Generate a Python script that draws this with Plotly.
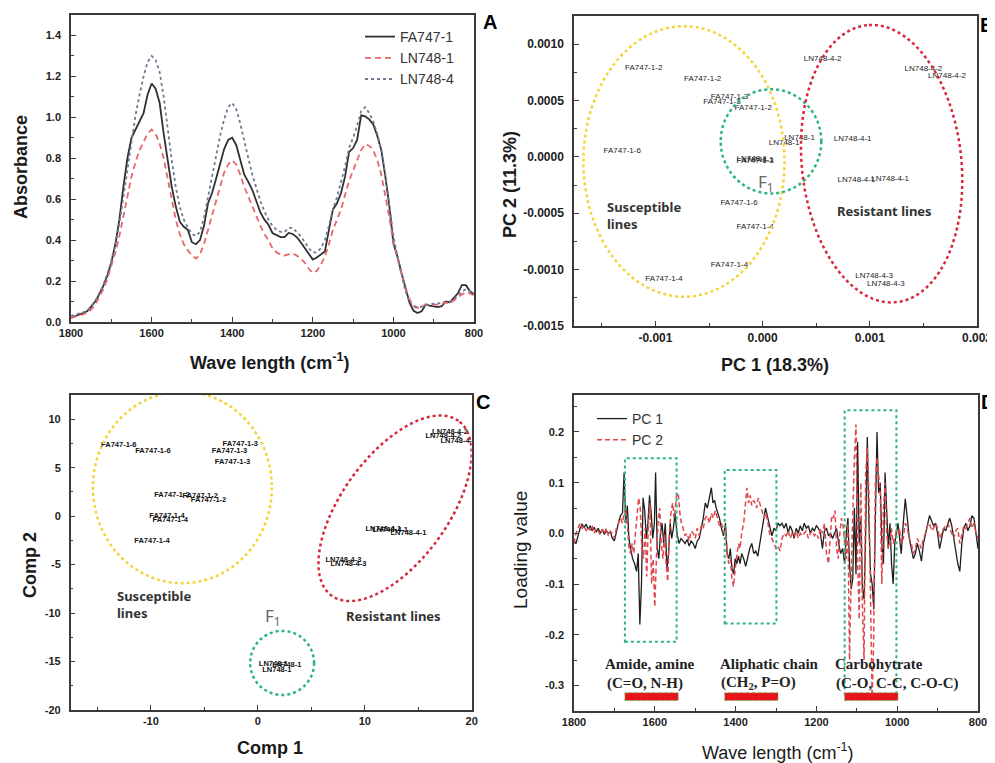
import numpy as np
import plotly.graph_objects as go

# ---------------- Panel A : FT-IR spectra ----------------
wave_a = list(range(1800, 799, -10))
fa747_1 = [0.020, 0.028, 0.035, 0.042, 0.052, 0.075, 0.10, 0.135, 0.175, 0.225,
           0.29, 0.38, 0.50, 0.66, 0.80, 0.90, 0.94, 0.98, 1.02, 1.11,
           1.165, 1.14, 1.07, 0.92, 0.79, 0.66, 0.565, 0.49, 0.465, 0.45,
           0.39, 0.38, 0.40, 0.47, 0.58, 0.63, 0.70, 0.78, 0.845, 0.89,
           0.90, 0.865, 0.79, 0.72, 0.685, 0.645, 0.59, 0.535, 0.50, 0.475,
           0.435, 0.425, 0.415, 0.415, 0.435, 0.43, 0.415, 0.39, 0.36, 0.33,
           0.305, 0.315, 0.33, 0.345, 0.45, 0.55, 0.58, 0.63, 0.71, 0.83,
           0.85, 0.89, 1.01, 1.005, 0.99, 0.965, 0.91, 0.84, 0.71, 0.565,
           0.385, 0.32, 0.24, 0.16, 0.095, 0.055, 0.044, 0.052, 0.085, 0.08,
           0.077, 0.073, 0.077, 0.10, 0.096, 0.117, 0.14, 0.18, 0.18, 0.15,
           0.135]
ln748_1 = [0.02, 0.025, 0.03, 0.037, 0.045, 0.06, 0.085, 0.12, 0.16, 0.21,
           0.27, 0.34, 0.42, 0.52, 0.62, 0.71, 0.78, 0.84, 0.88, 0.92,
           0.94, 0.92, 0.87, 0.80, 0.70, 0.59, 0.50, 0.43, 0.38, 0.35,
           0.325, 0.31, 0.33, 0.38, 0.45, 0.52, 0.59, 0.66, 0.73, 0.77,
           0.79, 0.77, 0.72, 0.66, 0.61, 0.57, 0.52, 0.47, 0.43, 0.40,
           0.36, 0.34, 0.33, 0.325, 0.33, 0.335, 0.325, 0.31, 0.29, 0.26,
           0.24, 0.25, 0.28, 0.32, 0.38, 0.45, 0.50, 0.55, 0.62, 0.69,
           0.74, 0.79, 0.84, 0.87, 0.86, 0.84, 0.79, 0.72, 0.62, 0.51,
           0.39, 0.31, 0.23, 0.16, 0.11, 0.08, 0.07, 0.075, 0.085, 0.08,
           0.085, 0.085, 0.09, 0.095, 0.09, 0.105, 0.12, 0.135, 0.145, 0.14,
           0.13]
ln748_4 = [0.03, 0.035, 0.04, 0.047, 0.055, 0.075, 0.10, 0.14, 0.18, 0.235,
           0.30, 0.38, 0.48, 0.61, 0.75, 0.89, 1.01, 1.11, 1.20, 1.27,
           1.30, 1.28, 1.22, 1.10, 0.94, 0.79, 0.66, 0.56, 0.50, 0.46,
           0.43, 0.42, 0.44, 0.51, 0.61, 0.71, 0.81, 0.91, 0.99, 1.05,
           1.07, 1.04, 0.97, 0.88, 0.80, 0.72, 0.65, 0.59, 0.54, 0.50,
           0.47, 0.45, 0.44, 0.44, 0.46, 0.46, 0.44, 0.42, 0.39, 0.36,
           0.34, 0.34, 0.36, 0.40, 0.47, 0.55, 0.61, 0.68, 0.76, 0.85,
           0.90, 0.96, 1.03, 1.05, 1.02, 0.98, 0.92, 0.84, 0.72, 0.57,
           0.42, 0.32, 0.23, 0.15, 0.10, 0.075, 0.07, 0.075, 0.085, 0.085,
           0.09, 0.09, 0.095, 0.10, 0.10, 0.11, 0.13, 0.15, 0.16, 0.15,
           0.14]

# ---------------- Panel B : PCA scores ----------------
b_labels = ["FA747-1-2", "FA747-1-2", "FA747-1-3", "FA747-1-3", "FA747-1-2",
            "FA747-1-6", "FA747-1-6", "FA747-1-4", "FA747-1-4", "FA747-1-4",
            "LN748-1", "FA747-1-3", "LN748-1", "LN748-1", "LN748-1",
            "LN748-4-2", "LN748-4-2", "LN748-4-2", "LN748-4-1", "LN748-4-1",
            "LN748-4-1", "LN748-4-3", "LN748-4-3"]
b_pc1 = [-0.00111, -0.00056, -0.00031, -0.00038, -0.000088,
         -0.00131, -0.00022, -0.00007, -0.00031, -0.00092,
         -0.00010, -0.00007, -0.00004, 0.000344, 0.00020,
         0.00056, 0.00150, 0.00172, 0.00084, 0.000875,
         0.00119, 0.00104, 0.00115]
b_pc2 = [0.000785, 0.000688, 0.000535, 0.00049, 0.00043,
         0.00005, -0.000406, -0.00062, -0.000956, -0.00108,
         -0.00002, -0.000035, -0.000025, 0.000168, 0.000124,
         0.000865, 0.00078, 0.000718, 0.000159, -0.000209,
         -0.0002, -0.00106, -0.00113]

# ---------------- Panel C : PLS scores ----------------
c_labels = ["FA747-1-6", "FA747-1-6", "FA747-1-3", "FA747-1-3", "FA747-1-3",
            "FA747-1-2", "FA747-1-2", "FA747-1-2", "FA747-1-4", "FA747-1-4",
            "FA747-1-4", "LN748-4-2", "LN748-4-2", "LN748-4-2", "LN748-4-1",
            "LN748-4-1", "LN748-4-1", "LN748-4-3", "LN748-4-3", "LN748-1",
            "LN748-1", "LN748-1"]
c_comp1 = [-13.0, -9.81, -1.65, -2.65, -2.37,
           -8.04, -5.39, -4.61, -8.5, -8.19,
           -9.9, 17.97, 17.35, 18.75, 11.74,
           12.37, 14.08, 8.0, 8.47, 1.46,
           2.71, 1.78]
c_comp2 = [7.32, 6.66, 7.38, 6.76, 5.53,
           2.19, 2.09, 1.68, 0.02, -0.39,
           -2.61, 8.65, 8.21, 7.7, -1.35,
           -1.42, -1.76, -4.52, -4.93, -15.25,
           -15.38, -15.9]

# ---------------- Panel D : loadings ----------------
pc1_loading = [
    (1800, -0.015), (1795, -0.02), (1790, -0.005), (1785, 0.01), (1780, 0.018), (1775, 0.012),
    (1770, 0.018), (1765, 0.008), (1760, 0.015), (1755, 0.005), (1750, 0.012), (1745, 0.002),
    (1740, 0.01), (1735, 0.0), (1730, 0.008), (1725, -0.002), (1720, 0.005), (1715, 0.0),
    (1710, 0.003), (1705, -0.01), (1700, -0.015), (1695, 0.005), (1690, 0.02), (1685, 0.035),
    (1680, 0.04), (1676, 0.12), (1672, 0.02), (1668, 0.055), (1664, -0.01), (1660, -0.03),
    (1655, -0.05), (1650, -0.06), (1645, -0.075), (1641, -0.04), (1637, -0.18), (1633, -0.10),
    (1629, 0.07), (1625, 0.045), (1621, -0.01), (1617, 0.02), (1613, 0.075), (1609, 0.04),
    (1605, -0.01), (1601, 0.02), (1598, 0.12), (1594, -0.03), (1590, -0.05), (1586, 0.0),
    (1582, 0.02), (1578, -0.02), (1574, 0.02), (1570, -0.07), (1566, -0.04), (1562, 0.02),
    (1558, -0.01), (1554, 0.01), (1550, 0.04), (1545, 0.0), (1540, -0.02), (1535, -0.01),
    (1530, -0.015), (1525, -0.02), (1520, -0.012), (1515, -0.025), (1510, -0.015), (1505, -0.02),
    (1500, -0.03), (1495, -0.015), (1490, -0.01), (1485, 0.01), (1480, 0.03), (1475, 0.06),
    (1470, 0.05), (1465, 0.07), (1460, 0.09), (1456, 0.06), (1452, 0.065), (1448, 0.05),
    (1444, 0.04), (1440, 0.03), (1435, 0.01), (1430, -0.005), (1425, 0.02), (1421, -0.04),
    (1417, -0.05), (1413, -0.03), (1409, -0.07), (1405, -0.08), (1401, -0.05), (1397, -0.06),
    (1393, -0.045), (1389, -0.06), (1385, -0.04), (1380, -0.05), (1375, -0.065), (1370, -0.045),
    (1365, -0.03), (1360, -0.02), (1355, -0.04), (1350, -0.035), (1345, -0.045), (1340, -0.02),
    (1335, 0.01), (1330, 0.03), (1326, 0.05), (1322, 0.035), (1318, 0.02), (1314, 0.01),
    (1310, -0.005), (1305, 0.01), (1300, 0.005), (1295, 0.02), (1290, 0.015), (1285, 0.02),
    (1280, 0.01), (1275, 0.02), (1270, 0.0), (1265, 0.015), (1260, 0.005), (1255, -0.01),
    (1250, 0.01), (1245, 0.0), (1240, 0.015), (1235, 0.005), (1230, 0.02), (1225, 0.01),
    (1220, 0.015), (1215, 0.0), (1210, 0.01), (1205, 0.005), (1200, 0.015), (1195, 0.01),
    (1190, 0.0), (1185, -0.03), (1180, 0.005), (1175, 0.01), (1170, -0.005), (1165, 0.0),
    (1160, -0.01), (1155, 0.0), (1150, 0.01), (1145, -0.02), (1140, -0.04), (1135, -0.03),
    (1130, -0.06), (1126, 0.0), (1122, 0.03), (1118, -0.06), (1114, -0.11), (1110, -0.09),
    (1106, 0.05), (1102, -0.08), (1098, 0.18), (1094, -0.02), (1090, 0.03), (1086, -0.11),
    (1082, -0.13), (1078, 0.0), (1074, 0.19), (1070, 0.02), (1066, -0.08), (1062, -0.10),
    (1058, -0.15), (1054, 0.03), (1050, 0.20), (1046, 0.08), (1042, 0.10), (1038, -0.02),
    (1034, -0.06), (1030, 0.12), (1026, 0.05), (1022, -0.03), (1018, 0.02), (1014, -0.06),
    (1010, -0.10), (1006, -0.02), (1002, 0.0), (998, 0.02), (994, -0.01), (990, -0.04),
    (985, 0.02), (980, 0.068), (975, 0.03), (970, -0.01), (965, -0.03), (960, -0.05),
    (955, -0.04), (950, -0.02), (945, -0.035), (940, -0.055), (935, -0.02), (930, 0.0),
    (925, 0.02), (920, 0.035), (915, 0.025), (910, 0.015), (905, 0.02), (900, 0.0),
    (895, -0.03), (890, -0.01), (885, 0.01), (880, 0.005), (875, 0.02), (870, 0.03),
    (865, 0.015), (860, -0.01), (855, -0.03), (850, -0.06), (845, -0.075), (840, -0.02),
    (835, 0.01), (830, 0.02), (825, 0.005), (820, 0.015), (815, 0.035), (810, 0.03),
    (805, 0.0), (800, -0.03)]
pc2_loading = [
    (1800, -0.02), (1795, 0.0), (1790, 0.01), (1785, 0.02), (1780, 0.01), (1775, 0.015),
    (1770, 0.005), (1765, 0.012), (1760, 0.006), (1755, 0.015), (1750, 0.0), (1745, 0.01),
    (1740, 0.005), (1735, -0.003), (1730, 0.008), (1725, 0.0), (1720, 0.01), (1715, -0.005),
    (1710, 0.004), (1705, 0.0), (1700, -0.01), (1695, 0.01), (1690, 0.02), (1685, 0.03),
    (1680, 0.02), (1676, 0.04), (1672, 0.05), (1668, 0.02), (1664, -0.03), (1660, -0.04),
    (1656, -0.02), (1652, -0.04), (1648, 0.0), (1644, 0.03), (1640, 0.07), (1636, 0.05),
    (1632, -0.03), (1628, -0.05), (1624, 0.01), (1620, -0.085), (1616, 0.02), (1612, 0.06),
    (1608, -0.10), (1604, -0.05), (1600, -0.145), (1596, -0.05), (1592, 0.02), (1588, 0.05),
    (1584, -0.02), (1580, -0.05), (1576, 0.0), (1572, -0.06), (1568, -0.095), (1564, 0.0),
    (1560, 0.04), (1556, 0.06), (1552, 0.03), (1546, 0.075), (1542, 0.08), (1538, 0.04),
    (1534, 0.02), (1530, 0.01), (1525, -0.005), (1520, 0.0), (1515, -0.015), (1510, 0.005),
    (1505, 0.0), (1500, -0.01), (1495, 0.01), (1490, -0.005), (1485, 0.015), (1480, 0.01),
    (1475, 0.03), (1470, 0.035), (1465, 0.02), (1460, 0.04), (1455, 0.03), (1450, 0.045),
    (1445, 0.03), (1440, 0.015), (1435, 0.02), (1430, 0.0), (1425, 0.01), (1421, -0.04),
    (1417, -0.06), (1413, -0.05), (1409, -0.09), (1405, -0.105), (1401, -0.07), (1397, -0.04),
    (1393, -0.02), (1389, -0.03), (1385, 0.0), (1380, 0.02), (1376, 0.05), (1372, 0.09),
    (1368, 0.06), (1364, 0.075), (1360, 0.055), (1356, 0.065), (1352, 0.06), (1348, 0.05),
    (1344, 0.07), (1340, 0.06), (1335, 0.045), (1330, 0.03), (1325, 0.04), (1320, 0.02),
    (1315, -0.005), (1310, -0.01), (1305, -0.02), (1300, -0.03), (1295, -0.025), (1290, -0.035),
    (1285, -0.01), (1280, 0.0), (1275, -0.005), (1270, 0.005), (1265, -0.01), (1260, 0.0),
    (1255, -0.005), (1250, 0.005), (1245, -0.01), (1240, 0.0), (1235, -0.005), (1230, 0.0),
    (1225, 0.005), (1220, -0.01), (1215, 0.0), (1210, 0.005), (1205, -0.005), (1200, 0.0),
    (1195, -0.01), (1190, 0.01), (1185, 0.0), (1180, 0.02), (1175, -0.04), (1170, -0.06),
    (1166, -0.02), (1162, 0.035), (1158, 0.03), (1154, 0.045), (1150, -0.03), (1146, -0.05),
    (1142, 0.0), (1138, 0.03), (1134, 0.015), (1130, -0.02), (1126, -0.05), (1122, 0.02),
    (1118, -0.25), (1114, -0.08), (1110, 0.06), (1106, 0.15), (1102, 0.215), (1098, -0.05),
    (1094, -0.17), (1090, 0.10), (1086, -0.15), (1082, -0.25), (1078, 0.12), (1074, 0.17),
    (1070, 0.08), (1066, -0.18), (1062, -0.33), (1058, -0.20), (1054, 0.10), (1050, 0.15),
    (1046, 0.12), (1042, 0.08), (1038, -0.10), (1034, 0.05), (1030, 0.10), (1026, 0.0),
    (1022, -0.03), (1018, -0.02), (1014, 0.01), (1010, -0.02), (1006, -0.01), (1002, 0.005),
    (998, 0.0), (994, 0.01), (990, -0.02), (985, -0.01), (980, 0.02), (975, 0.01),
    (970, -0.01), (965, -0.02), (960, -0.04), (955, -0.03), (950, -0.01), (945, -0.02),
    (940, -0.03), (935, -0.01), (930, 0.0), (925, 0.015), (920, 0.02), (915, 0.005),
    (910, 0.01), (905, 0.02), (900, 0.01), (895, -0.01), (890, 0.0), (885, 0.01),
    (880, 0.015), (875, 0.02), (870, 0.01), (865, 0.0), (860, -0.01), (855, 0.005),
    (850, 0.01), (845, -0.02), (840, 0.0), (835, 0.015), (830, 0.01), (825, 0.02),
    (820, 0.03), (815, 0.01), (810, 0.02), (805, 0.0), (800, -0.01)]
wave_d1, pc1 = zip(*pc1_loading)
wave_d2, pc2 = zip(*pc2_loading)

# band regions (wave number limits) and labels for panel D
band_lo = [1546, 1299, 1002]
band_hi = [1674, 1427, 1130]
band_box_top = [0.148, 0.125, 0.243]
band_box_bottom = [-0.214, -0.178, -0.322]
band_title = ["Amide, amine", "Aliphatic chain", "Carbohytrate"]
band_sub = ["(C=O, N-H)", "(CH<sub>2</sub>, P=O)", "(C-O, C-C, C-O-C)"]
band_text_x = [1727, 1443, 1159]

# tick labels
a_xticks = [1800, 1600, 1400, 1200, 1000, 800]
a_yticks = [0.0, 0.2, 0.4, 0.6, 0.8, 1.0, 1.2, 1.4]
b_xticks = [-0.001, 0.0, 0.001, 0.002]
b_xtext = ["-0.001", "0.000", "0.001", "0.002"]
b_yticks = [-0.0015, -0.0010, -0.0005, 0.0, 0.0005, 0.0010]
b_ytext = ["-0.0015", "-0.0010", "-0.0005", "0.0000", "0.0005", "0.0010"]
c_xticks = [-10, 0, 10, 20]
c_yticks = [-20, -15, -10, -5, 0, 5, 10]
d_yticks = [-0.3, -0.2, -0.1, 0.0, 0.1, 0.2]

# ---------------- page geometry (page body has an 8px margin) ----------------
OFF = 8
FIG_W, FIG_H = 987, 755


def px(X):
    return (X - OFF) / FIG_W


def py(Y):
    return 1 - (Y - OFF) / FIG_H


# ---------------- figure ----------------
SANS = "Liberation Sans"
SERIF = "Liberation Serif"
NOTO = "Noto Sans"
AXC = "#3a3a3a"
fig = go.Figure()

fig.add_trace(go.Scatter(x=wave_a, y=fa747_1, mode="lines", name="FA747-1",
                         line=dict(color="#303030", width=1.8), xaxis="x", yaxis="y"))
fig.add_trace(go.Scatter(x=wave_a, y=ln748_1, mode="lines", name="LN748-1",
                         line=dict(color="#e8676a", width=1.8, dash="6px,4px"), xaxis="x", yaxis="y"))
fig.add_trace(go.Scatter(x=wave_a, y=ln748_4, mode="lines", name="LN748-4",
                         line=dict(color="#6f7b92", width=1.8, dash="dot"), xaxis="x", yaxis="y"))

fig.add_trace(go.Scatter(x=b_pc1, y=b_pc2, mode="text", text=b_labels, showlegend=False,
                         textfont=dict(family=SANS, size=8, color="#222"), xaxis="x2", yaxis="y2"))
fig.add_trace(go.Scatter(x=c_comp1, y=c_comp2, mode="text", text=c_labels, showlegend=False,
                         textfont=dict(family=SANS, size=7.5, color="#111", weight="bold"),
                         xaxis="x3", yaxis="y3"))

fig.add_trace(go.Scatter(x=wave_d1, y=pc1, mode="lines", name="PC 1", legend="legend2",
                         line=dict(color="#1e1e1e", width=1.3), xaxis="x4", yaxis="y4"))
fig.add_trace(go.Scatter(x=wave_d2, y=pc2, mode="lines", name="PC 2", legend="legend2",
                         line=dict(color="#e0474c", width=1.5, dash="5px,3px"), xaxis="x4", yaxis="y4"))


def axis(domain, rng, tickvals, ticktext, minor_tick0, minor_dtick, anchor, is_y=False, fsize=11):
    d = dict(domain=domain, range=rng, tickmode="array", tickvals=tickvals, ticktext=ticktext,
             showline=True, mirror=True, linecolor=AXC, linewidth=1.5, showgrid=False,
             zeroline=False, ticks="inside", ticklen=5, tickwidth=1.2, tickcolor=AXC,
             tickfont=dict(family=SANS, size=fsize, color="#222", weight="bold"),
             anchor=anchor, automargin=False,
             minor=dict(tickmode="linear", tick0=minor_tick0, dtick=minor_dtick, ticks="inside",
                        ticklen=3, tickwidth=1, tickcolor=AXC, showgrid=False))
    if is_y:
        d["ticklabelstandoff"] = 6
    return d


layout = dict(
    width=FIG_W, height=FIG_H, autosize=False,
    margin=dict(l=0, r=0, t=0, b=0, pad=0, autoexpand=False),
    paper_bgcolor="white", plot_bgcolor="white", showlegend=True,
    xaxis=axis([px(71), px(474)], [1800, 800], a_xticks, [str(v) for v in a_xticks], 800, 100, "y"),
    yaxis=axis([py(322), py(15)], [0, 1.5], a_yticks, [f"{v:.1f}" for v in a_yticks], 0, 0.1, "x", True),
    xaxis2=axis([px(574), px(977)], [-0.00176, 0.002], b_xticks, b_xtext, 0, 0.0005, "y2", fsize=12),
    yaxis2=axis([py(326), py(16)], [-0.0015, 0.00125], b_yticks, b_ytext, 0, 0.00025, "x2", True, fsize=12),
    xaxis3=axis([px(70.7), px(471.7)], [-17.5, 20], c_xticks, [str(v) for v in c_xticks], 0, 5, "y3"),
    yaxis3=axis([py(710), py(395)], [-20, 12.5], c_yticks, [str(v) for v in c_yticks], 0, 2.5, "x3", True),
    xaxis4=axis([px(574), px(978)], [1800, 800], a_xticks, [str(v) for v in a_xticks], 800, 100, "y4"),
    yaxis4=axis([py(710.7), py(395)], [-0.35, 0.273], d_yticks, [f"{v:.1f}" for v in d_yticks], 0, 0.05, "x4", True),
    legend=dict(x=px(360), y=py(21), xanchor="left", yanchor="top", bgcolor="rgba(0,0,0,0)",
                font=dict(family=SANS, size=14, color="#333"), tracegroupgap=0, itemwidth=30),
    legend2=dict(x=px(592), y=py(403), xanchor="left", yanchor="top", bgcolor="rgba(0,0,0,0)",
                 font=dict(family=SANS, size=14, color="#333"), tracegroupgap=0, itemwidth=30),
)
fig.update_layout(**layout)

shapes = []
YEL, RED, GRN = "#f3d43a", "#d6283c", "#2eb57e"


def ellipse_path(cx, cy, a_px, b_px, angle_deg, px_per_x, px_per_y, n=160):
    t = np.linspace(0, 2 * np.pi, n)
    th = np.radians(angle_deg)
    dx = a_px * np.cos(t) * np.cos(th) - b_px * np.sin(t) * np.sin(th)
    dy = a_px * np.cos(t) * np.sin(th) + b_px * np.sin(t) * np.cos(th)
    xs = cx + dx / px_per_x
    ys = cy + dy / px_per_y
    return "M " + " L ".join(f"{x:.7g},{y:.7g}" for x, y in zip(xs, ys)) + " Z"


# panel B ellipses
shapes.append(dict(type="circle", xref="x2", yref="y2", x0=-0.001672, x1=0.000204,
                   y0=-0.00124, y1=0.00116, line=dict(color=YEL, width=2.5, dash="dot")))
shapes.append(dict(type="circle", xref="x2", yref="y2", x0=-0.000391, x1=0.000547,
                   y0=-0.000324, y1=0.0006, line=dict(color=GRN, width=2.5, dash="dot")))
shapes.append(dict(type="path", xref="x2", yref="y2",
                   path=ellipse_path(0.00111, -0.00006, 140, 80, 96, 107500, 113300),
                   line=dict(color=RED, width=2.5, dash="dot")))
# panel C ellipses
shapes.append(dict(type="circle", xref="x3", yref="y3", x0=-15.42, x1=1.31,
                   y0=-6.92, y1=12.85, line=dict(color=YEL, width=2.5, dash="dot")))
shapes.append(dict(type="circle", xref="x3", yref="y3", x0=-0.72, x1=5.26,
                   y0=-18.45, y1=-11.84, line=dict(color=GRN, width=2.5, dash="dot")))
shapes.append(dict(type="path", xref="x3", yref="y3",
                   path=ellipse_path(12.83, 0.815, 108, 53, 54, 10.7, 9.69),
                   line=dict(color=RED, width=2.5, dash="dot")))
# panel D boxes and bars
for lo, hi, top, bot in zip(band_lo, band_hi, band_box_top, band_box_bottom):
    shapes.append(dict(type="rect", xref="x4", yref="y4", x0=hi, x1=lo, y0=bot, y1=top,
                       line=dict(color=GRN, width=2, dash="dot")))
    shapes.append(dict(type="rect", xref="x4", yref="y4", x0=hi, x1=lo - 4, y0=-0.330, y1=-0.3145,
                       fillcolor="#e8141c", line=dict(color="#6dbb5a", width=1, dash="dot")))
fig.update_layout(shapes=shapes)

ann = []


def txt(x, y, s, size, bold=True, xref="paper", yref="paper", angle=0, xanchor="center",
        yanchor="middle", color="#1a1a1a", family=SANS, align="center"):
    ann.append(dict(x=x, y=y, xref=xref, yref=yref, text=s, showarrow=False, textangle=angle,
                    xanchor=xanchor, yanchor=yanchor, align=align,
                    font=dict(family=family, size=size, color=color,
                              weight="bold" if bold else "normal")))


# axis titles
txt(px(270), py(361), "Wave length (cm<sup>-1</sup>)", 18)
txt(px(21), py(167), "Absorbance", 18, angle=-90)
txt(px(775), py(365), "PC 1 (18.3%)", 18)
txt(px(510), py(185), "PC 2 (11.3%)", 18, angle=-90)
txt(px(270), py(748), "Comp 1", 18)
txt(px(30), py(565), "Comp 2", 18, angle=-90)
txt(px(778), py(751), "Wave length (cm<sup>-1</sup>)", 18, bold=False)
txt(px(520), py(550), "Loading value", 19, bold=False, angle=-90)
# panel letters
txt(px(490), py(22), "A", 20, color="#000")
txt(px(987), py(25), "B", 20, color="#000")
txt(px(483), py(402), "C", 20, color="#000")
txt(px(988), py(402), "D", 20, color="#000")
# group labels panel B
txt(-0.001475, -0.000524, "Susceptible<br>lines", 13, xref="x2", yref="y2", xanchor="left",
    align="left", color="#333", family=NOTO)
txt(0.00114, -0.00048, "Resistant lines", 13, xref="x2", yref="y2", color="#333", family=NOTO)
txt(0.00003, -0.00023, "F<sub>1</sub>", 17, bold=False, xref="x2", yref="y2", color="#666", family=NOTO)
# group labels panel C
txt(-13.33, -9.16, "Susceptible<br>lines", 13, xref="x3", yref="y3", xanchor="left",
    align="left", color="#333", family=NOTO)
txt(12.68, -10.3, "Resistant lines", 13, xref="x3", yref="y3", color="#333", family=NOTO)
txt(1.40, -10.37, "F<sub>1</sub>", 17, bold=False, xref="x3", yref="y3", color="#666", family=NOTO)
# band labels panel D
for bx, t1, t2 in zip(band_text_x, band_title, band_sub):
    txt(bx, -0.258, t1, 15, xref="x4", yref="y4", xanchor="left", color="#222", family=SERIF)
    txt(bx - 3, -0.296, t2, 15, xref="x4", yref="y4", xanchor="left", color="#222", family=SERIF)

fig.update_layout(annotations=ann)
fig.write_html("out.html")
